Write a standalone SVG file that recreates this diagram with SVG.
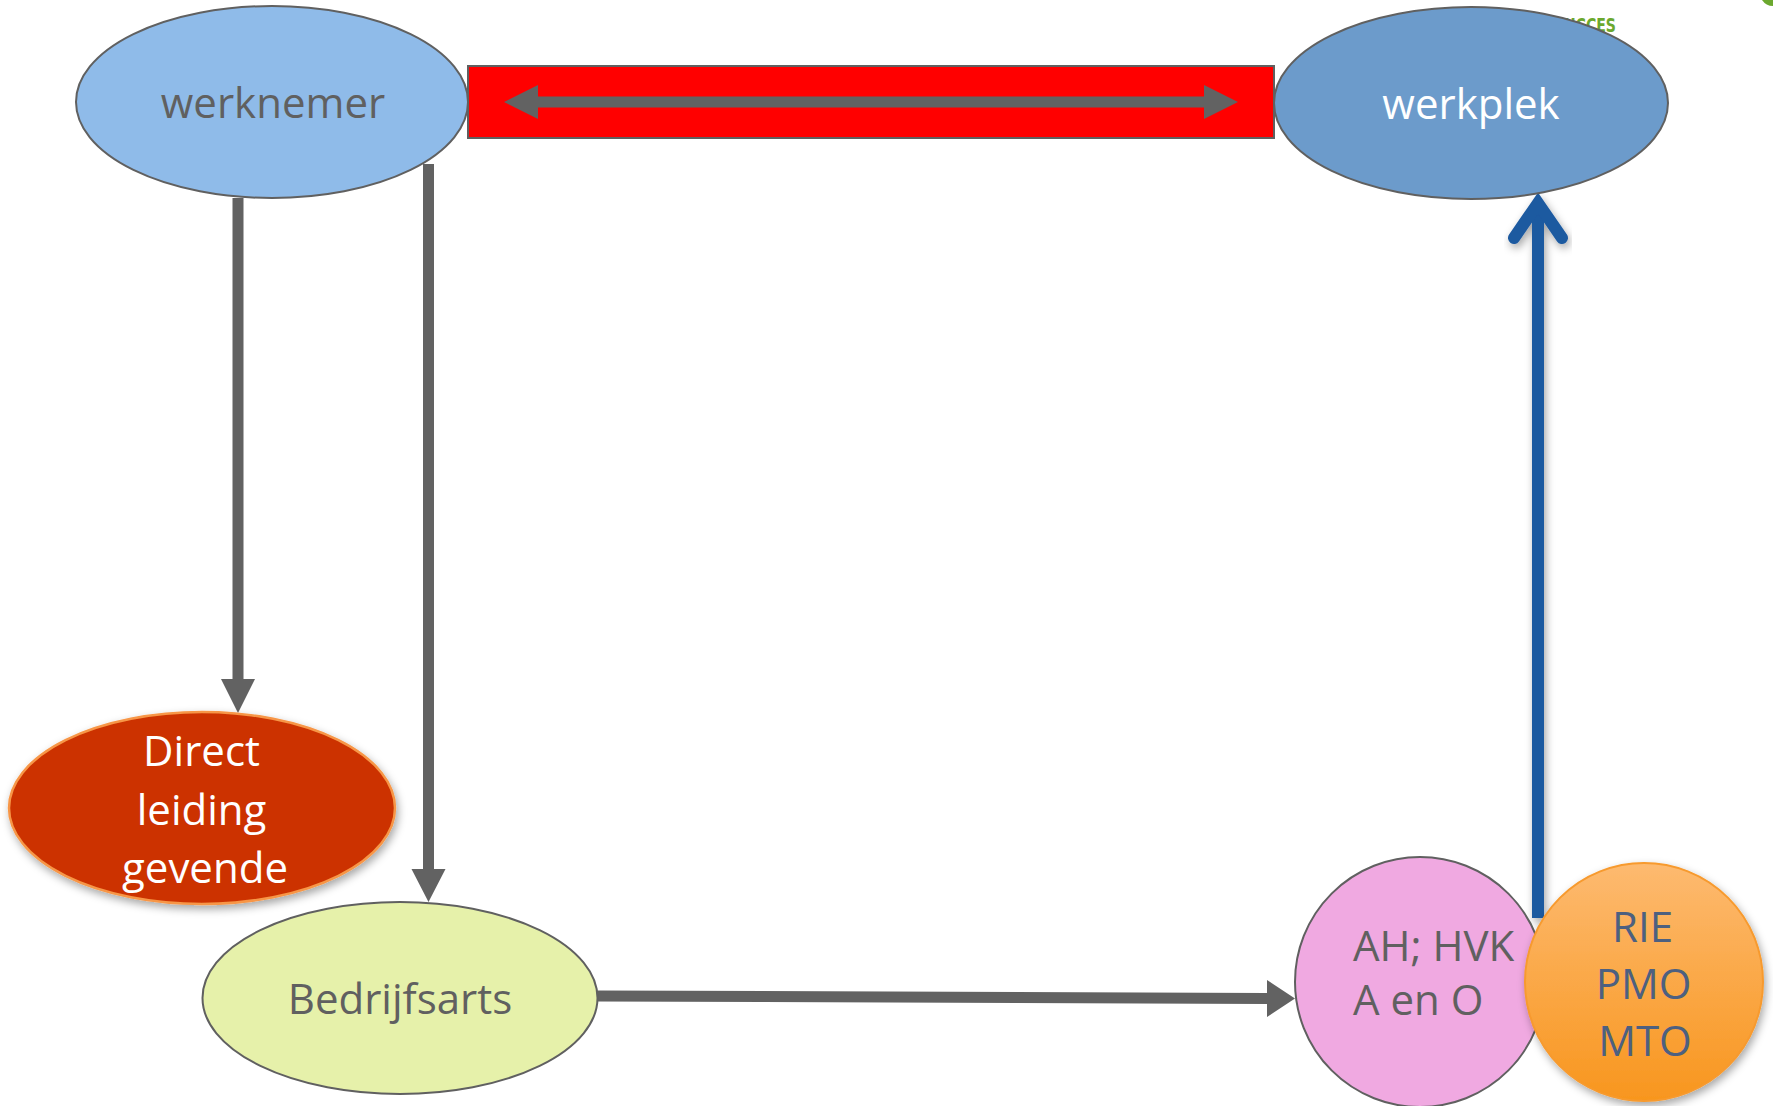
<svg xmlns="http://www.w3.org/2000/svg" width="1773" height="1106" viewBox="0 0 1773 1106">
  <defs>
    <style>
      .lbl { font-family: "Open Sans", "Liberation Sans", sans-serif; font-size: 42px; }
      .grey { fill: #606060; }
      .white { fill: #ffffff; }
      .node { stroke: #606060; stroke-width: 2; }
      .conn { fill: #626262; stroke: none; }
    </style>
    <filter id="shadow" x="-20%" y="-20%" width="140%" height="140%">
      <feDropShadow dx="2" dy="4" stdDeviation="4" flood-color="#000000" flood-opacity="0.35"/>
    </filter>
    <linearGradient id="orangeGrad" x1="0" y1="0" x2="0" y2="1">
      <stop offset="0" stop-color="#FDBA70"/>
      <stop offset="1" stop-color="#F8961E"/>
    </linearGradient>
  </defs>

  <rect x="0" y="0" width="1773" height="1106" fill="#ffffff"/>

  <!-- background logo fragment -->
  <g id="logo-fragment">
    <text x="1616" y="32" font-family="DejaVu Sans Condensed, DejaVu Sans, sans-serif" font-weight="bold" font-size="20" fill="#6BA82E" text-anchor="end" textLength="62" lengthAdjust="spacingAndGlyphs">SUCCES</text>
    <path d="M1762,0 Q1766,6 1773,6 L1773,0 Z" fill="#6BA82E"/>
  </g>

  <!-- connectors -->
  <g id="connectors">
    <!-- red bar with double arrow -->
    <rect x="468" y="66" width="806" height="72" fill="#FF0000" stroke="#606060" stroke-width="2"/>
    <polygon class="conn" points="504,102 538,85 538,96.5 1204,96.5 1204,85 1238,102 1204,119 1204,107.5 538,107.5 538,119"/>
    <!-- werknemer -> Direct leiding gevende -->
    <polygon class="conn" points="232.5,198 243.5,198 243.5,679 255,679 238,713 221,679 232.5,679"/>
    <!-- werknemer -> Bedrijfsarts -->
    <polygon class="conn" points="423,164 434,164 434,869 445.5,869 428.5,902 411.5,869 423,869"/>
    <!-- Bedrijfsarts -> AH; HVK -->
    <polygon class="conn" points="597,990.5 1267,993 1267,980 1295,998.5 1267,1017 1267,1004 597,1001.5"/>
    <!-- RIE/PMO/MTO -> werkplek (blue) -->
    <g filter="url(#shadow)">
      <line x1="1538" y1="918" x2="1538" y2="212" stroke="#1E5AA0" stroke-width="12"/>
      <polyline points="1514,238 1538,203 1562,238" fill="none" stroke="#1E5AA0" stroke-width="12" stroke-linecap="round" stroke-linejoin="miter"/>
    </g>
  </g>

  <g id="werknemer">
    <ellipse class="node" cx="272" cy="102" rx="196" ry="96" fill="#8FBBE9"/>
    <text class="lbl grey" x="273" y="118" text-anchor="middle">werknemer</text>
  </g>

  <g id="werkplek">
    <ellipse class="node" cx="1471" cy="103" rx="197" ry="96" fill="#6C9BCB"/>
    <text class="lbl white" x="1471" y="119" text-anchor="middle">werkplek</text>
  </g>

  <g id="direct-leiding-gevende">
    <ellipse cx="202" cy="808" rx="193" ry="96" fill="#CC3300" stroke="#F79646" stroke-width="2.5" filter="url(#shadow)"/>
    <text class="lbl white" text-anchor="middle">
      <tspan x="207" y="766">Direct</tspan>
      <tspan x="207" y="825">leiding</tspan>
      <tspan x="205" y="883">gevende</tspan>
    </text>
  </g>

  <g id="bedrijfsarts">
    <ellipse class="node" cx="400" cy="998" rx="197.5" ry="96" fill="#E6F1AA"/>
    <text class="lbl grey" x="400" y="1014" text-anchor="middle">Bedrijfsarts</text>
  </g>

  <g id="ah-hvk">
    <circle class="node" cx="1420" cy="982" r="125" fill="#F0A9E1"/>
    <text class="lbl grey">
      <tspan x="1353" y="961">AH; HVK</tspan>
      <tspan x="1353" y="1015">A en O</tspan>
    </text>
  </g>

  <g id="rie-pmo-mto">
    <circle cx="1644" cy="982" r="119" fill="url(#orangeGrad)" stroke="#F79A2E" stroke-width="2" filter="url(#shadow)"/>
    <text class="lbl" fill="#4D6080" text-anchor="middle">
      <tspan x="1648" y="942">RIE</tspan>
      <tspan x="1649" y="999">PMO</tspan>
      <tspan x="1645" y="1056">MTO</tspan>
    </text>
  </g>
</svg>
